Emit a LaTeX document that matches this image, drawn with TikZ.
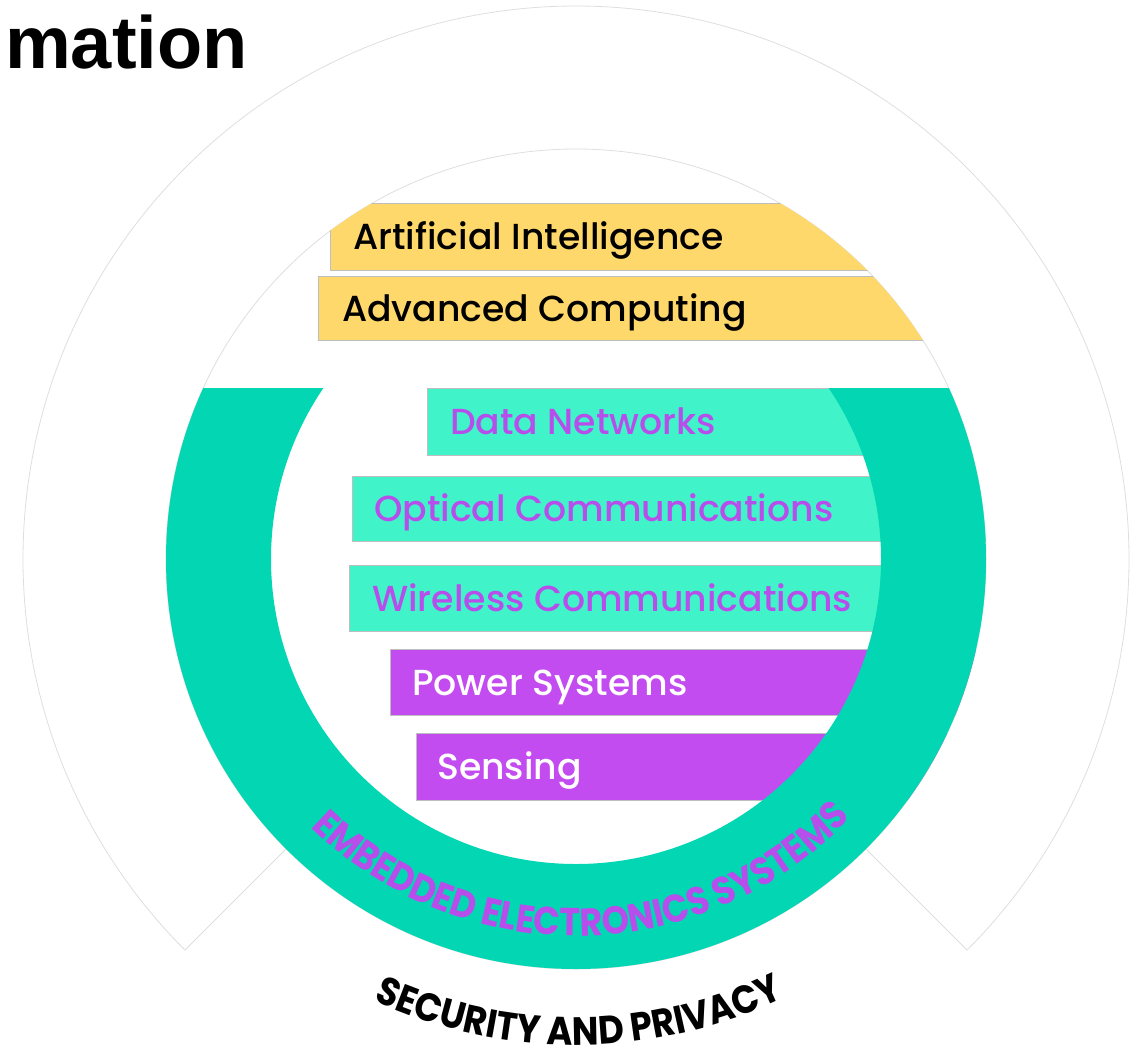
\documentclass[tikz,border=0pt]{standalone}
\usepackage{fontspec}
\setmainfont{Poppins}
\newfontfamily\titlefont{Liberation Sans}
\newfontfamily\barfont{Poppins Medium}
\newfontfamily\arcfont[FakeStretch=0.9]{Poppins}
\usetikzlibrary{decorations.text}
\definecolor{ringteal}{RGB}{3,214,179}
\definecolor{boxteal}{RGB}{65,243,201}
\definecolor{boxpurple}{RGB}{194,76,239}
\definecolor{txtpurple}{RGB}{183,78,236}
\definecolor{boxyellow}{RGB}{254,216,106}
\definecolor{edgegray}{RGB}{190,190,190}
\definecolor{faintgray}{RGB}{222,222,222}
\begin{document}
\begin{tikzpicture}[x=1pt,y=1pt,
  faintline/.style={draw=faintgray, line width=0.8pt},
  bar/.style={draw=edgegray, line width=0.8pt},
  lbl/.style={anchor=base west, inner sep=0pt, font=\barfont\fontsize{36.2}{36.2}\selectfont},
]
\useasboundingbox (0,0) rectangle (1141,-1053);
\coordinate (c) at (576,-559);
% outer faint ring
\draw[faintline] ([shift={(c)}]225:410) -- ([shift={(c)}]225:553)
  arc[start angle=225,end angle=-45,radius=553] -- ([shift={(c)}]315:410);
\draw[faintline] (c) circle[radius=410];
% bars
\begin{scope}
  \clip (c) circle[radius=410];
  \filldraw[bar, fill=boxyellow] (330,-203) rectangle (1000,-270);
  \filldraw[bar, fill=boxyellow] (318,-276) rectangle (1000,-340);
  \filldraw[bar, fill=boxteal] (427,-388) rectangle (1000,-455);
  \filldraw[bar, fill=boxteal] (352,-476) rectangle (1000,-541);
  \filldraw[bar, fill=boxteal] (349,-565) rectangle (1000,-631);
  \filldraw[bar, fill=boxpurple] (390,-649) rectangle (1000,-715);
  \filldraw[bar, fill=boxpurple] (416,-733) rectangle (1000,-800);
\end{scope}
% teal ring
\begin{scope}
  \clip (0,-388) rectangle (1141,-1053);
  \fill[ringteal, even odd rule] (c) circle[radius=410] (c) circle[radius=305];
\end{scope}
% labels
\node[lbl, text=black] (ai) at (353,-249.5) {Artificial Intelligence};
\node[lbl, text=black] (ac) at (342,-321) {Advanced Computing};
\node[lbl, text=txtpurple] (dn) at (450,-434.5) {Data Networks};
\node[lbl, text=txtpurple] (oc) at (374,-521.5) {Optical Communications};
\node[lbl, text=txtpurple] (wc) at (372,-611) {Wireless Communications};
\node[lbl, text=white] (ps) at (412,-695) {Power Systems};
\node[lbl, text=white] (se) at (437,-779.5) {Sensing};
% curved labels
\path[decorate, decoration={text along path, text align=center,
  text={|\arcfont\fontsize{39}{39}\selectfont\bfseries\color{txtpurple}|EMBEDDED ELECTRONICS SYSTEMS}}]
  ([shift={(c)}]201:377) arc[start angle=201, end angle=341, radius=377];
\path[decorate, decoration={text along path, text align=center,
  text={|\arcfont\fontsize{39.5}{39.5}\selectfont\bfseries\color{black}|SECURITY AND PRIVACY}}]
  ([shift={(c)}]220.4:486) arc[start angle=220.4, end angle=320.4, radius=486];
% title
\node[anchor=base west, inner sep=0pt, font=\titlefont\bfseries\fontsize{74}{74}\selectfont] (title) at (5,-68) {mation};
\end{tikzpicture}
\end{document}
